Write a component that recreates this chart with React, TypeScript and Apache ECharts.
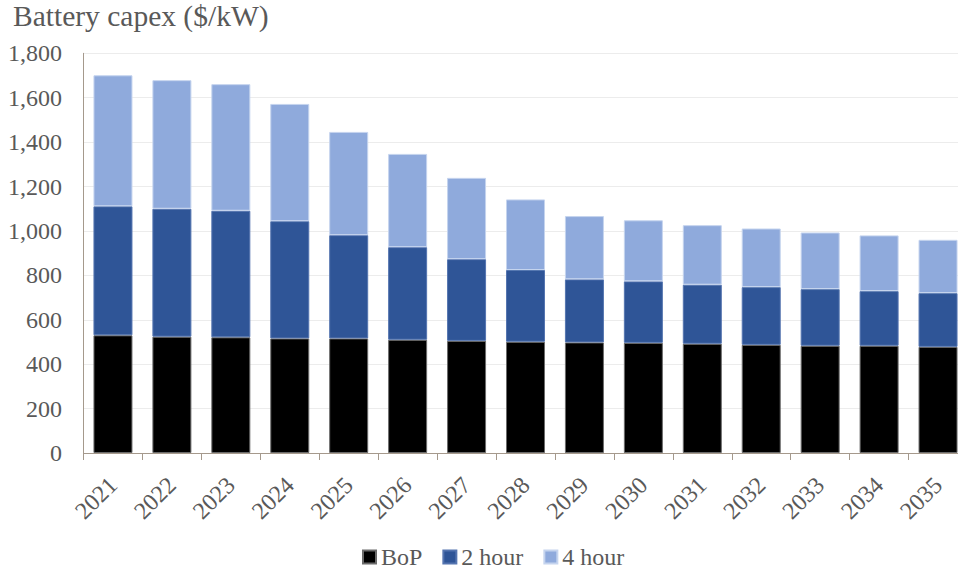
import React, { useEffect, useRef } from "react";
import * as echarts from "echarts";

const years = ["2021","2022","2023","2024","2025","2026","2027","2028","2029","2030","2031","2032","2033","2034","2035"];
const bop = [530, 524, 521, 516, 516, 510, 505, 501, 498, 496, 492, 487, 483, 483, 478];
const hour2 = [581, 576, 570, 528, 465, 417, 368, 323, 284, 277, 266, 260, 255, 246, 242];
const hour4 = [590, 579, 570, 528, 465, 420, 366, 318, 285, 275, 268, 264, 255, 251, 240];
const seriesNames = ["BoP", "2 hour", "4 hour"];
const titleText = "Battery capex ($/kW)";

const FONT = "'Liberation Serif', 'Times New Roman', serif";
const TXT = "#595959";

export default function App() {
  const ref = useRef<HTMLDivElement>(null);
  useEffect(() => {
    if (!ref.current) return;
    const chart = echarts.init(ref.current, null, { renderer: "svg" });
    const mk = (name: string, data: number[], color: string, border: string) => ({
      name,
      type: "bar",
      stack: "total",
      data,
      barWidth: 39,
      itemStyle: { color, borderColor: border, borderWidth: 1 },
    });
    chart.setOption({
      animation: false,
      backgroundColor: "#ffffff",
      title: {
        text: titleText,
        left: 8,
        top: -4,
        textStyle: { fontFamily: FONT, fontSize: 29.5, fontWeight: "normal", color: TXT },
      },
      grid: {
        left: 83.5,
        top: 53.3,
        right: -9.5,
        bottom: 118,
        containLabel: false,
        outerBoundsMode: "none",
      },
      legend: {
        top: 540,
        left: 357,
        itemWidth: 13,
        itemHeight: 13,
        itemGap: 20,
        icon: "rect",
        textStyle: { fontFamily: FONT, fontSize: 24, color: TXT, padding: [0, 0, 0, 0] },
        data: seriesNames,
      },
      xAxis: {
        type: "category",
        data: years,
        axisLine: { show: true, lineStyle: { color: "#a5998c", width: 1 } },
        axisTick: { show: true, length: 7, lineStyle: { color: "#a5998c" } },
        axisLabel: { rotate: 45, margin: 28, fontFamily: FONT, fontSize: 24, color: TXT, interval: 0 },
      },
      yAxis: {
        type: "value",
        min: 0,
        max: 1800,
        interval: 200,
        axisLine: { show: true, lineStyle: { color: "#a5998c", width: 1 } },
        axisTick: { show: false },
        splitLine: { lineStyle: { color: "#ececec", width: 1 } },
        axisLabel: {
          margin: 21.5,
          fontFamily: FONT,
          fontSize: 24,
          color: TXT,
          formatter: (v: number) => v.toLocaleString("en-US"),
        },
      },
      series: [
        mk(seriesNames[0], bop, "#000000", "#6b6b6b"),
        mk(seriesNames[1], hour2, "#2F5597", "#5575b0"),
        mk(seriesNames[2], hour4, "#8FAADC", "#c5d4ee"),
      ],
    });
    return () => chart.dispose();
  }, []);
  return (
    <div
      ref={ref}
      style={{ position: "fixed", left: 0, top: 0, width: 958, height: 571, background: "#fff" }}
    />
  );
}
